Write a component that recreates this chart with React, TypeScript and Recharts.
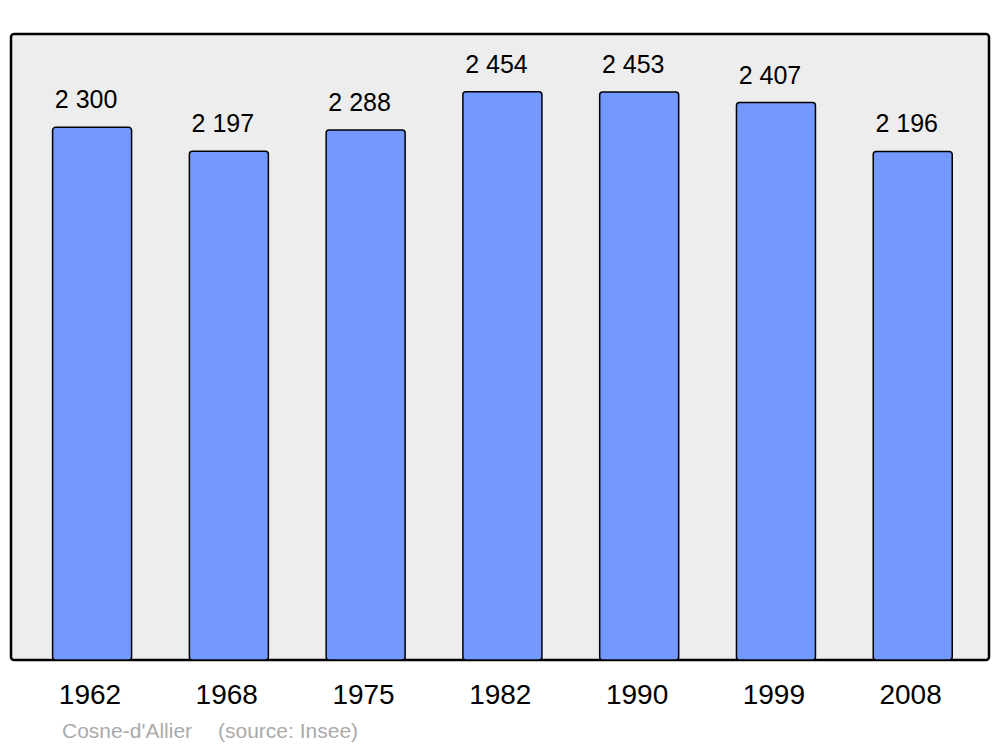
import { Bar, BarChart, CartesianGrid, LabelList, XAxis, YAxis } from 'recharts';

// Population de Cosne-d'Allier (recensements Insee)
const years = ['1962', '1968', '1975', '1982', '1990', '1999', '2008'];
const population = [2300, 2197, 2288, 2454, 2453, 2407, 2196];
const commune = "Cosne-d'Allier";
const source = '(source: Insee)';

const data = years.map((year, i) => ({ year, pop: population[i] }));

const FONT = '"Liberation Sans", Arial, sans-serif';
const W = 1000;
const H = 747;
const AXIS_H = 30;
// zone de tracé : x 11..989, y 34..660
const M = { top: 34, right: 11, bottom: 87 - AXIS_H, left: 11 };

// "2300" -> "2 300"
const fmt = (v: number) => String(v).replace(/\B(?=(\d{3})+(?!\d))/g, ' ');

function ValueLabel(props: any) {
    const { x, y, width, value } = props;
    return (
        <text
            x={x + width / 2 - 6}
            y={y - 19}
            textAnchor="middle"
            fontSize={25}
            fontFamily={FONT}
            fill="#000"
        >
            {fmt(value)}
        </text>
    );
}

function YearTick(props: any) {
    const { x, y, payload } = props;
    return (
        <text x={x - 2} y={y} textAnchor="middle" fontSize={28} fontFamily={FONT} fill="#000">
            {payload.value}
        </text>
    );
}

export default function App() {
    return (
        <div style={{ position: 'absolute', left: 0, top: 0, width: W, height: H, background: '#fff' }}>
            <BarChart width={W} height={H} data={data} margin={M}>
                {/* fond gris de la zone de tracé */}
                <CartesianGrid horizontal={false} vertical={false} fill="#ededed" />
                <XAxis
                    dataKey="year"
                    height={AXIS_H}
                    axisLine={false}
                    tickLine={false}
                    padding={{ left: 12.6, right: 8 }}
                    interval={0}
                    tick={<YearTick />}
                    tickMargin={38}
                />
                <YAxis hide domain={[0, 2703]} />
                <Bar
                    dataKey="pop"
                    fill="#7399ff"
                    stroke="#000"
                    strokeWidth={1.5}
                    radius={3}
                    barSize={79}
                    isAnimationActive={false}
                >
                    <LabelList dataKey="pop" content={<ValueLabel />} />
                </Bar>
                {/* cadre */}
                <rect
                    x={M.left}
                    y={M.top}
                    width={W - M.left - M.right}
                    height={H - M.top - 87}
                    rx={3}
                    fill="none"
                    stroke="#000"
                    strokeWidth={2.5}
                />
                <text x={62} y={738} fontSize={21} fontFamily={FONT} fill="#aaa">{commune}</text>
                <text x={218} y={738} fontSize={21} fontFamily={FONT} fill="#aaa">{source}</text>
            </BarChart>
        </div>
    );
}
